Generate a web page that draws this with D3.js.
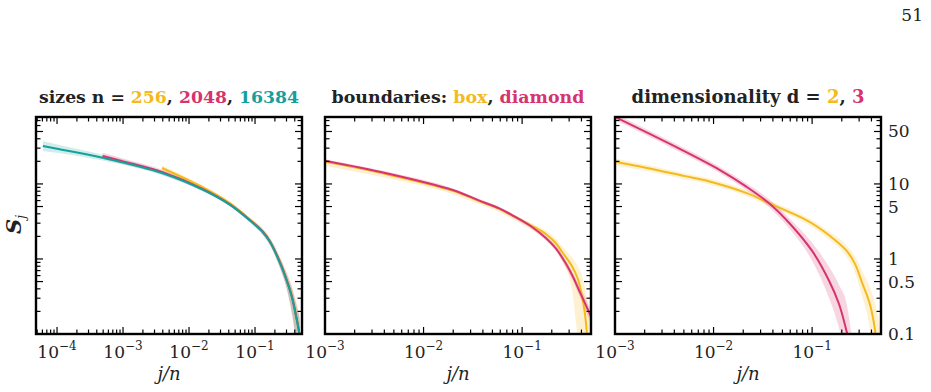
<!DOCTYPE html>
<html><head><meta charset="utf-8">
<script src="https://cdn.jsdelivr.net/npm/d3@7"></script>
<style>body{margin:0;background:#fff} svg{display:block} text{font-family:"DejaVu Serif", serif;}</style>
</head><body>
<svg id="c" width="931" height="392"></svg>
<script>
// ---------- DATA ----------
// Panel 1: system sizes n
const x256   = [3.9e-3, 0.0166, 0.042, 0.084, 0.13, 0.169, 0.24, 0.30, 0.36, 0.43, 0.465, 0.48];
const S256   = [16.3, 8.9, 5.5, 3.35, 2.35, 1.72, 0.9, 0.54, 0.33, 0.16, 0.11, 0.09];
const S256lo = [15, 8.4, 5.2, 3.15, 2.15, 1.55, 0.76, 0.42, 0.2, 0.07, 0.04, 0.03];
const S256hi = [17.6, 9.4, 5.8, 3.55, 2.55, 1.9, 1.05, 0.67, 0.44, 0.25, 0.19, 0.16];

const x2048   = [4.9e-4, 1e-3, 4e-3, 0.0166, 0.042, 0.084, 0.13, 0.169, 0.24, 0.30, 0.36, 0.43, 0.465, 0.48];
const S2048   = [23.6, 20.0, 14.3, 8.45, 5.3, 3.28, 2.32, 1.7, 0.89, 0.53, 0.32, 0.155, 0.108, 0.09];
const S2048lo = [21.5, 18.4, 13.3, 7.9, 5.0, 3.08, 2.12, 1.52, 0.74, 0.4, 0.19, 0.065, 0.04, 0.03];
const S2048hi = [26, 21.8, 15.4, 9.0, 5.6, 3.5, 2.52, 1.88, 1.05, 0.66, 0.43, 0.24, 0.18, 0.15];

const x16384   = [6.1e-5, 1e-4, 4.9e-4, 4e-3, 0.0166, 0.042, 0.084, 0.13, 0.169, 0.24, 0.30, 0.36, 0.43, 0.465, 0.48];
const S16384   = [32, 29.5, 22.4, 13.9, 8.3, 5.25, 3.25, 2.3, 1.68, 0.88, 0.525, 0.315, 0.154, 0.107, 0.085];
const S16384lo = [27.5, 26, 20.5, 13, 7.9, 5.0, 3.05, 2.1, 1.5, 0.75, 0.42, 0.2, 0.07, 0.04, 0.03];
const S16384hi = [37, 33.5, 24.5, 14.8, 8.7, 5.5, 3.45, 2.5, 1.86, 1.0, 0.62, 0.4, 0.22, 0.17, 0.12];

// Panel 2: boundaries
const xBox   = [1e-3, 4.2e-3, 0.0198, 0.0368, 0.0586, 0.0795, 0.127, 0.174, 0.22, 0.255, 0.32, 0.368, 0.404, 0.433, 0.454, 0.47, 0.5];
const SBox   = [19.7, 13.5, 8.1, 5.9, 4.65, 3.8, 2.75, 2.15, 1.62, 1.24, 0.807, 0.541, 0.331, 0.19, 0.103, 0.05, 0.02];
const SBoxlo = [17.3, 12.0, 7.3, 5.35, 4.2, 3.4, 2.4, 1.8, 1.3, 0.92, 0.4, 0.09, 0.05, 0.03, 0.02, 0.01, 0.005];
const SBoxhi = [20.6, 14.1, 8.5, 6.2, 4.9, 4.0, 2.95, 2.4, 1.85, 1.48, 1.05, 0.8, 0.6, 0.42, 0.3, 0.22, 0.1];

const xDia   = [1e-3, 4.2e-3, 0.0198, 0.0368, 0.0586, 0.0795, 0.127, 0.174, 0.22, 0.277, 0.33, 0.377, 0.43, 0.475, 0.5];
const SDia   = [20.4, 13.9, 8.3, 6.0, 4.72, 3.82, 2.65, 1.9, 1.38, 0.875, 0.57, 0.386, 0.265, 0.198, 0.17];
const SDialo = [19.4, 13.2, 7.9, 5.7, 4.47, 3.6, 2.48, 1.77, 1.27, 0.79, 0.5, 0.33, 0.22, 0.16, 0.135];
const SDiahi = [21.4, 14.6, 8.7, 6.3, 4.97, 4.04, 2.82, 2.04, 1.5, 0.96, 0.64, 0.44, 0.32, 0.24, 0.21];

// Panel 3: dimensionality
const xD2   = [1e-3, 2e-3, 5e-3, 0.0091, 0.0214, 0.0395, 0.08, 0.11, 0.15, 0.22, 0.27, 0.324, 0.36, 0.392, 0.42, 0.44, 0.47, 0.5];
const SD2   = [19.8, 16.6, 12.8, 10.8, 7.6, 5.3, 3.5, 2.75, 2.05, 1.32, 0.88, 0.47, 0.33, 0.231, 0.15, 0.1, 0.05, 0.02];
const SD2lo = [17.8, 15, 11.6, 9.8, 6.9, 4.8, 3.15, 2.45, 1.8, 1.1, 0.68, 0.31, 0.19, 0.1, 0.05, 0.03, 0.01, 0.005];
const SD2hi = [21.8, 18.2, 14, 11.8, 8.3, 5.8, 3.85, 3.05, 2.3, 1.55, 1.1, 0.68, 0.52, 0.4, 0.3, 0.24, 0.16, 0.1];

const xD3   = [1e-3, 4.54e-3, 0.0115, 0.0215, 0.0368, 0.0586, 0.1, 0.149, 0.1875, 0.226, 0.25];
const SD3   = [78, 29.3, 15.4, 9.2, 5.5, 3.02, 1.28, 0.509, 0.251, 0.103, 0.055];
const SD3lo = [71, 26.6, 14.0, 8.3, 4.85, 2.55, 0.95, 0.3, 0.12, 0.04, 0.02];
const SD3hi = [86, 32.2, 17.0, 10.2, 6.2, 3.5, 1.65, 0.78, 0.45, 0.24, 0.1];

const yTickLabels = ["50", "10", "5", "1", "0.5", "0.1"];
const yTickValues = [50, 10, 5, 1, 0.5, 0.1];

const COL = {yellow: "#F4BA1B", pink: "#D7336F", teal: "#14A09B"};

// ---------- LAYOUT ----------
const svg = d3.select("#c");
const TOP = 117, BOT = 334;
const yDomain = [0.1, 78];
const panels = [
  {x0: 36, x1: 302, dom: [4.8e-5, 0.515],
   title: [["sizes n = ", "#222"], ["256", COL.yellow], [", ", "#222"], ["2048", COL.pink], [", ", "#222"], ["16384", COL.teal]],
   titleW: 260,
   series: [
     {x: x256, s: S256, lo: S256lo, hi: S256hi, c: COL.yellow},
     {x: x2048, s: S2048, lo: S2048lo, hi: S2048hi, c: COL.pink},
     {x: x16384, s: S16384, lo: S16384lo, hi: S16384hi, c: COL.teal}]},
  {x0: 325, x1: 591, dom: [1e-3, 0.5],
   title: [["boundaries: ", "#222"], ["box", COL.yellow], [", ", "#222"], ["diamond", COL.pink]],
   titleW: 253,
   series: [
     {x: xBox, s: SBox, lo: SBoxlo, hi: SBoxhi, c: COL.yellow},
     {x: xDia, s: SDia, lo: SDialo, hi: SDiahi, c: COL.pink}]},
  {x0: 615, x1: 881, dom: [1e-3, 0.5], rightLabels: true,
   title: [["dimensionality d = ", "#222"], ["2", COL.yellow], [", ", "#222"], ["3", COL.pink]],
   titleW: 233,
   series: [
     {x: xD2, s: SD2, lo: SD2lo, hi: SD2hi, c: COL.yellow},
     {x: xD3, s: SD3, lo: SD3lo, hi: SD3hi, c: COL.pink}]}
];

const y = d3.scaleLog().domain(yDomain).range([BOT, TOP]);

panels.forEach((p, i) => {
  const x = d3.scaleLog().domain(p.dom).range([p.x0, p.x1]);
  const g = svg.append("g");
  const clipId = "clip" + i;
  svg.append("clipPath").attr("id", clipId).append("rect")
    .attr("x", p.x0).attr("y", TOP).attr("width", p.x1 - p.x0).attr("height", BOT - TOP);
  const plot = g.append("g").attr("clip-path", `url(#${clipId})`);

  const cv = d3.curveCatmullRom.alpha(0.5);
  const area = d3.area().x(d => x(d.x)).y0(d => y(d.lo)).y1(d => y(d.hi)).curve(d3.curveMonotoneX);
  const line = d3.line().x(d => x(d.x)).y(d => y(d.s)).curve(cv);

  p.series.forEach(s => {
    const pts = s.x.map((v, k) => ({x: v, s: s.s[k], lo: s.lo[k], hi: s.hi[k]}));
    plot.append("path").attr("d", area(pts)).attr("fill", s.c).attr("fill-opacity", 0.2).attr("stroke", "none");
  });
  p.series.forEach(s => {
    const pts = s.x.map((v, k) => ({x: v, s: s.s[k]}));
    plot.append("path").attr("d", line(pts)).attr("fill", "none").attr("stroke", s.c).attr("stroke-width", 2);
  });

  // ticks (inward on all four sides)
  const tk = g.append("g").attr("stroke", "#000").attr("stroke-width", 1.2);
  x.ticks().forEach(v => {
    const major = Math.abs(Math.log10(v) - Math.round(Math.log10(v))) < 1e-9;
    const L = major ? 7 : 4.5;
    const px = x(v);
    if (px < p.x0 + 1 || px > p.x1 - 1) return;
    tk.append("line").attr("x1", px).attr("x2", px).attr("y1", BOT).attr("y2", BOT - L);
    tk.append("line").attr("x1", px).attr("x2", px).attr("y1", TOP).attr("y2", TOP + L);
  });
  y.ticks().forEach(v => {
    const major = yTickValues.some(t => Math.abs(t - v) / t < 1e-6);
    const L = major ? 7 : 4.5;
    const py = y(v);
    if (py < TOP + 1 || py > BOT - 1) return;
    tk.append("line").attr("x1", p.x0).attr("x2", p.x0 + L).attr("y1", py).attr("y2", py);
    tk.append("line").attr("x1", p.x1).attr("x2", p.x1 - L).attr("y1", py).attr("y2", py);
  });

  // frame
  g.append("rect").attr("x", p.x0).attr("y", TOP).attr("width", p.x1 - p.x0).attr("height", BOT - TOP)
    .attr("fill", "none").attr("stroke", "#000").attr("stroke-width", 2.4);

  // x tick labels
  x.ticks().filter(v => Math.abs(Math.log10(v) - Math.round(Math.log10(v))) < 1e-9).forEach(v => {
    const e = Math.round(Math.log10(v));
    const t = svg.append("text").attr("x", x(v)).attr("y", 358).attr("text-anchor", "middle")
      .attr("font-size", 17).attr("fill", "#222");
    t.append("tspan").text("10");
    t.append("tspan").attr("font-size", 12).attr("dy", -8).text("\u2212" + Math.abs(e));
  });

  // x axis label
  svg.append("text").attr("x", (p.x0 + p.x1) / 2).attr("y", 380).attr("text-anchor", "middle")
    .attr("font-size", 18).attr("font-style", "italic").attr("fill", "#222").text("j/n");

  // right labels
  if (p.rightLabels) {
    yTickValues.forEach((v, k) => {
      svg.append("text").attr("x", p.x1 + 7).attr("y", y(v) + 6)
        .attr("font-size", 17).attr("fill", "#222").text(yTickLabels[k]);
    });
  }

  // title
  const tt = svg.append("text").attr("x", (p.x0 + p.x1) / 2).attr("y", 103).attr("text-anchor", "middle")
    .attr("font-weight", "bold").attr("font-size", 17);
  p.title.forEach(([s, c]) => tt.append("tspan").attr("fill", c).text(s));
  const len = tt.node().getComputedTextLength();
  const fs = Math.max(14, Math.min(21, 17 * p.titleW / len));
  tt.attr("font-size", fs);
});

// y axis label
const yl = svg.append("text").attr("transform", "translate(21,234) rotate(-90)")
  .attr("font-size", 21).attr("font-style", "italic").attr("font-weight", "bold").attr("fill", "#222");
yl.append("tspan").text("S");
yl.append("tspan").attr("font-size", 12).attr("dy", 4).attr("font-weight", "normal").text("j");

// page number
svg.append("text").attr("x", 923).attr("y", 21).attr("text-anchor", "end")
  .attr("font-size", 17).attr("fill", "#222").text("51");
</script></body></html>
